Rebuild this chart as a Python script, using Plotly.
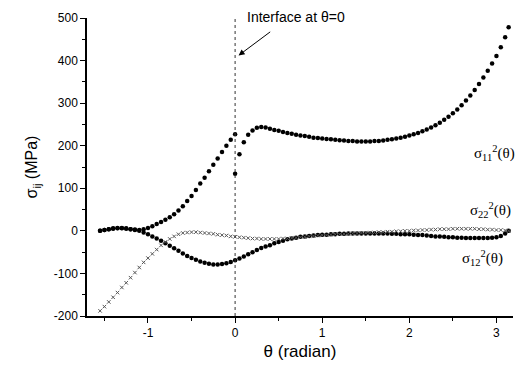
import plotly.graph_objects as go

# theta grid (radian) shared by the series, step 0.05
theta = [-1.55, -1.50, -1.45, -1.40, -1.35, -1.30, -1.25, -1.20, -1.15, -1.10,
         -1.05, -1.00, -0.95, -0.90, -0.85, -0.80, -0.75, -0.70, -0.65, -0.60,
         -0.55, -0.50, -0.45, -0.40, -0.35, -0.30, -0.25, -0.20, -0.15, -0.10,
         -0.05, 0.00, 0.05, 0.10, 0.15, 0.20, 0.25, 0.30, 0.35, 0.40,
         0.45, 0.50, 0.55, 0.60, 0.65, 0.70, 0.75, 0.80, 0.85, 0.90,
         0.95, 1.00, 1.05, 1.10, 1.15, 1.20, 1.25, 1.30, 1.35, 1.40,
         1.45, 1.50, 1.55, 1.60, 1.65, 1.70, 1.75, 1.80, 1.85, 1.90,
         1.95, 2.00, 2.05, 2.10, 2.15, 2.20, 2.25, 2.30, 2.35, 2.40,
         2.45, 2.50, 2.55, 2.60, 2.65, 2.70, 2.75, 2.80, 2.85, 2.90,
         2.95, 3.00, 3.05, 3.10, 3.14]

# sigma11 has a jump at the interface: left branch up to theta=0, right branch from theta=0
theta11_left = [-1.55, -1.50, -1.45, -1.40, -1.35, -1.30, -1.25, -1.20, -1.15, -1.10,
                -1.05, -1.00, -0.95, -0.90, -0.85, -0.80, -0.75, -0.70, -0.65, -0.60,
                -0.55, -0.50, -0.45, -0.40, -0.35, -0.30, -0.25, -0.20, -0.15, -0.10,
                -0.05, 0.00]
sigma11_left = [0, 2, 4, 5, 6, 6, 5, 4, 3, 2,
                4, 7, 11, 16, 21, 26, 32, 39, 48, 58,
                70, 82, 96, 111, 125, 140, 155, 170, 185, 200,
                214, 227]
theta11_right = [0.00, 0.05, 0.10, 0.15, 0.20, 0.25, 0.30, 0.35, 0.40,
                 0.45, 0.50, 0.55, 0.60, 0.65, 0.70, 0.75, 0.80, 0.85, 0.90,
                 0.95, 1.00, 1.05, 1.10, 1.15, 1.20, 1.25, 1.30, 1.35, 1.40,
                 1.45, 1.50, 1.55, 1.60, 1.65, 1.70, 1.75, 1.80, 1.85, 1.90,
                 1.95, 2.00, 2.05, 2.10, 2.15, 2.20, 2.25, 2.30, 2.35, 2.40,
                 2.45, 2.50, 2.55, 2.60, 2.65, 2.70, 2.75, 2.80, 2.85, 2.90,
                 2.95, 3.00, 3.05, 3.10, 3.14]
sigma11_right = [134, 180, 208, 226, 236, 242, 244, 243, 240,
                 237, 235, 232, 230, 228, 226, 224, 223, 221, 219,
                 218, 217, 216, 215, 214, 213, 212, 211, 211, 210,
                 210, 210, 210, 211, 211, 212, 214, 215, 217, 219,
                 221, 224, 227, 230, 234, 238, 243, 248, 254, 261,
                 268, 276, 285, 295, 306, 318, 331, 345, 360, 376,
                 393, 411, 431, 455, 478]

sigma22 = [-188, -178, -167, -156, -145, -133, -122, -110, -98, -86,
           -74, -64, -54, -44, -34, -26, -19, -13, -8, -5,
           -4, -3, -3, -4, -5, -6, -7, -9, -10, -11,
           -13, -14, -15, -16, -17, -18, -18, -19, -19, -19,
           -19, -19, -18, -18, -17, -16, -15, -14, -13, -12,
           -11, -10, -10, -9, -8, -8, -7, -7, -6, -6,
           -5, -5, -4, -4, -3, -3, -2, -2, -1, -1,
           0, 0, 1, 1, 2, 2, 3, 3, 4, 4,
           4, 5, 5, 5, 5, 5, 5, 4, 4, 3,
           3, 2, 2, 1, 0]

sigma12 = [0, 2, 4, 6, 7, 7, 6, 4, 2, 0,
           -4, -8, -13, -18, -23, -29, -35, -41, -47, -53,
           -59, -64, -68, -72, -75, -77, -79, -79, -78, -76,
           -73, -69, -65, -60, -55, -50, -45, -40, -37, -34,
           -29, -26, -23, -20, -18, -16, -14, -13, -12, -11,
           -10, -9, -9, -8, -8, -7, -7, -6, -6, -6,
           -6, -6, -6, -6, -6, -6, -6, -7, -7, -8,
           -8, -8, -9, -10, -10, -11, -12, -13, -13, -14,
           -15, -15, -16, -16, -17, -17, -17, -17, -17, -17,
           -16, -15, -12, -6, 0]

x_ticks = [-1, 0, 1, 2, 3]
x_tick_labels = ["-1", "0", "1", "2", "3"]
y_ticks = [-200, -100, 0, 100, 200, 300, 400, 500]
y_tick_labels = ["-200", "-100", "0", "100", "200", "300", "400", "500"]

fig = go.Figure()
dot = dict(color="black", size=4.5, symbol="circle")
fig.add_trace(go.Scatter(x=theta11_left, y=sigma11_left, mode="markers", marker=dot, showlegend=False))
fig.add_trace(go.Scatter(x=theta11_right, y=sigma11_right, mode="markers", marker=dot, showlegend=False))
fig.add_trace(go.Scatter(x=theta, y=sigma12, mode="markers", marker=dot, showlegend=False))
fig.add_trace(go.Scatter(x=theta, y=sigma22, mode="markers",
                         marker=dict(color="#555", size=3.5, symbol="x-thin",
                                     line=dict(color="#555", width=1)),
                         showlegend=False))

fig.add_shape(type="line", x0=0, x1=0, y0=-200, y1=502, xref="x", yref="y",
              line=dict(color="#333", width=1, dash="dot"))

fig.add_annotation(x=0.04, y=412, ax=0.42, ay=470, xref="x", yref="y", axref="x", ayref="y",
                   text="", showarrow=True, arrowhead=2, arrowsize=1.2, arrowwidth=1,
                   arrowcolor="black")
fig.add_annotation(x=0.49, y=1.003, xref="paper", yref="paper", text="Interface at θ=0",
                   xanchor="center", yanchor="middle",
                   showarrow=False, font=dict(family="Liberation Sans, Arial", size=14, color="black"))

lab_font = dict(family="Liberation Serif, Times New Roman", size=15, color="black")
fig.add_annotation(x=2.98, y=182, xref="x", yref="y", showarrow=False, font=lab_font,
                   text="σ<sub>11</sub><sup>2</sup>(θ)")
fig.add_annotation(x=2.93, y=48, xref="x", yref="y", showarrow=False, font=lab_font,
                   text="σ<sub>22</sub><sup>2</sup>(θ)")
fig.add_annotation(x=2.84, y=-64, xref="x", yref="y", showarrow=False, font=lab_font,
                   text="σ<sub>12</sub><sup>2</sup>(θ)")

axis_font = dict(family="Liberation Sans, Arial", size=12, color="black")
fig.update_layout(
    width=524, height=369,
    margin=dict(l=87, r=11, t=15, b=53),
    paper_bgcolor="white", plot_bgcolor="white",
    xaxis=dict(range=[-1.7, 3.19], tickvals=x_ticks, ticktext=x_tick_labels,
               showgrid=False, zeroline=False,
               showline=True, linecolor="black", linewidth=1.5, ticks="outside", ticklen=5,
               tickcolor="black", tickfont=axis_font,
               minor=dict(dtick=0.5, tick0=0, ticks="outside", ticklen=3, tickcolor="black"),
               title=dict(text="θ (radian)", font=dict(family="Liberation Sans, Arial", size=17, color="black"),
                          standoff=6)),
    yaxis=dict(range=[-200, 500], tickvals=y_ticks, ticktext=y_tick_labels,
               showgrid=False, zeroline=False,
               showline=True, linecolor="black", linewidth=1.5, ticks="outside", ticklen=5,
               tickcolor="black", tickfont=axis_font,
               minor=dict(dtick=50, tick0=0, ticks="outside", ticklen=3, tickcolor="black"),
               title=dict(text="σ<sub>ij</sub> (MPa)", font=dict(family="Liberation Sans, Arial", size=16, color="black"),
                          standoff=12)),
)

fig.write_html("out.html")
